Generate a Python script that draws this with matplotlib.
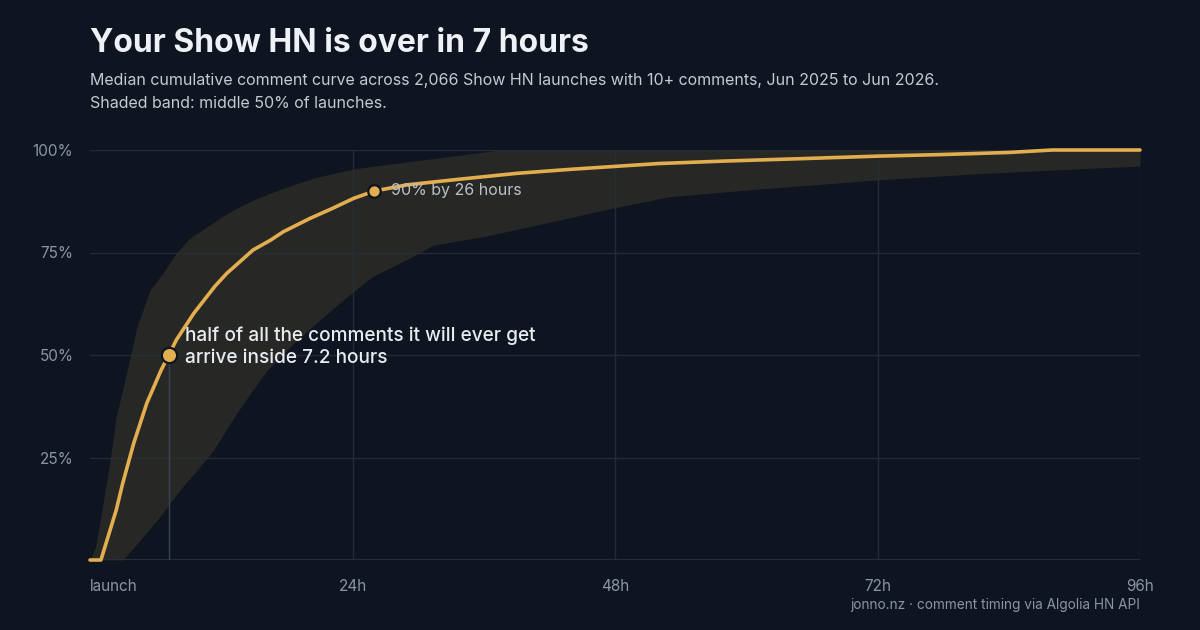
import matplotlib
matplotlib.use("Agg")
import matplotlib.pyplot as plt
import numpy as np

# ---- data ----
median_h = [0, 1.0, 2.4, 3.0, 4.0, 5.2, 6.5, 7.2, 7.9, 9.5, 11.4, 12.5, 14.9, 16.5, 17.7, 20.1,
            22.2, 24.1, 26, 29, 33.5, 39, 44, 48, 52, 58, 64, 72, 78, 84, 88, 96]
median_pct = [0, 0, 12.2, 18.8, 28.5, 38.3, 46.3, 50, 53.7, 60.2, 66.7, 69.9, 75.6, 78.0, 80.1, 83.3,
              85.8, 88.2, 90, 91.5, 92.8, 94.3, 95.3, 96.0, 96.7, 97.3, 97.8, 98.5, 98.9, 99.4, 100, 100]

q1_h = [0, 3.0, 4.6, 6.4, 8.2, 9.8, 11.3, 13.4, 14.9, 16.2, 18.6, 21.0, 23.5, 25.8, 28.9, 31.4,
        36, 40.2, 44.2, 47.8, 52.9, 61.7, 72, 81.6, 96]
q1_pct = [0, 0, 4.9, 10.6, 17, 22, 26.8, 35.8, 41.5, 46.3, 52.8, 58.5, 64.2, 69.1, 73.2, 76.8,
          78.9, 81.3, 83.7, 85.8, 88.6, 90.6, 92.7, 94.3, 96.1]

q3_h = [0, 0.5, 0.9, 1.8, 2.4, 3.4, 4.3, 5.5, 6.4, 7.9, 9.1, 10.7, 12.2, 13.7, 15.2, 16.8, 18.6,
        20.4, 22.9, 24.4, 27.5, 30.5, 34, 37.5, 96]
q3_pct = [0, 3.2, 9, 23.6, 35, 46.3, 56.9, 65.9, 69.0, 74.8, 78.5, 81.3, 84.0, 86.2, 88.1, 89.8, 91.5,
          93.1, 94.7, 95.5, 96.6, 97.6, 98.8, 100, 100]

x_ticks = [0, 24, 48, 72, 96]
x_labels = ["launch", "24h", "48h", "72h", "96h"]
y_ticks = [25, 50, 75, 100]
y_labels = ["25%", "50%", "75%", "100%"]

half_point = (7.2, 50)
p90_point = (26, 90)

# ---- style ----
BG = "#0e1520"
BAND = "#272825"
LINE = "#e2ae4f"
GRID = "#262f3b"
TICK = "#8b95a1"
FONT = ["Inter", "DejaVu Sans"]
plt.rcParams["font.family"] = FONT

fig = plt.figure(figsize=(12, 6.3), dpi=100, facecolor=BG)
ax = fig.add_axes([0.075, 1 - 560 / 630, 0.875, 410 / 630])
ax.set_facecolor(BG)

grid_h = np.linspace(0, 96, 2000)
lo = np.interp(grid_h, q1_h, q1_pct)
hi = np.interp(grid_h, q3_h, q3_pct)
ax.fill_between(grid_h, lo, hi, color=BAND, lw=0, zorder=1)

for y in y_ticks:
    ax.axhline(y, color=GRID, lw=1, alpha=0.85, zorder=1.5)
for x in x_ticks[1:]:
    ax.axvline(x, color=GRID, lw=1, alpha=0.85, zorder=1.5)
ax.axhline(0, color="#2b3442", lw=1.2, zorder=1.6)

ax.plot(median_h, median_pct, color=LINE, lw=2.6, zorder=3, clip_on=False,
        solid_capstyle="round", solid_joinstyle="round")

# marker line for 7.2h
ax.plot([half_point[0], half_point[0]], [0, half_point[1]], color="#3a434f", lw=1, zorder=2)

ax.plot(*half_point, "o", ms=11, mfc=LINE, mec="#0e1520", mew=1.6, zorder=5)
ax.plot(*p90_point, "o", ms=9, mfc=LINE, mec="#0e1520", mew=1.6, zorder=5)

ax.annotate("half of all the comments it will ever get\narrive inside 7.2 hours",
            xy=half_point, xytext=(12, 6), textcoords="offset points",
            color="#e8ecf1", fontsize=13.7, fontweight="medium", va="center", ha="left",
            linespacing=1.32, zorder=6)
ax.annotate("90% by 26 hours", xy=p90_point, xytext=(12, 0), textcoords="offset points",
            color="#b9c0c8", fontsize=11.5, va="center", ha="left", zorder=6)

ax.set_xlim(0, 96)
ax.set_ylim(0, 100)
ax.set_xticks(x_ticks)
ax.set_xticklabels(x_labels)
ax.set_yticks(y_ticks)
ax.set_yticklabels(y_labels)
ax.tick_params(axis="both", length=0, colors=TICK, labelsize=11)
ax.tick_params(axis="x", pad=14)
ax.tick_params(axis="y", pad=12)
ax.get_xticklabels()[0].set_ha("left")
for s in ax.spines.values():
    s.set_visible(False)

fig.text(90 / 1200, 1 - 43 / 630, "Your Show HN is over in 7 hours", color="#eef1f5",
         fontsize=23, fontweight="bold", va="center", ha="left")
fig.text(90 / 1200, 1 - 80 / 630,
         "Median cumulative comment curve across 2,066 Show HN launches with 10+ comments, Jun 2025 to Jun 2026.",
         color="#c3cad2", fontsize=11.5, va="center", ha="left")
fig.text(90 / 1200, 1 - 104 / 630, "Shaded band: middle 50% of launches.",
         color="#c3cad2", fontsize=11.5, va="center", ha="left")
fig.text(1140 / 1200, 1 - 605 / 630, "jonno.nz · comment timing via Algolia HN API",
         color=TICK, fontsize=9.8, va="center", ha="right")

fig.savefig("out.png", dpi=100, facecolor=BG)
